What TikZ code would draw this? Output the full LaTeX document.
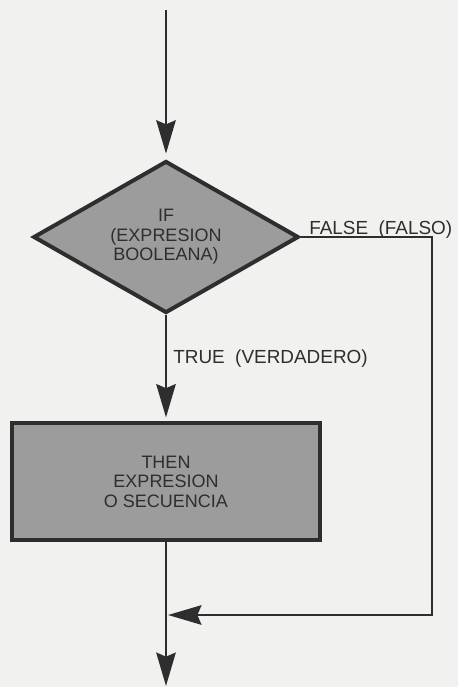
\documentclass[tikz,border=0pt]{standalone}
\usepackage{fontspec}
\setmainfont{Liberation Sans}
\usetikzlibrary{shapes.geometric,arrows.meta}
\definecolor{paper}{HTML}{F1F1EF}
\definecolor{ink}{HTML}{2E2E2E}
\definecolor{shade}{HTML}{9C9C9C}
\tikzset{
  flow/.style={draw=ink, line width=2.2pt, -{Stealth[length=25pt,width=14.5pt,inset=3pt]}},
  plain/.style={draw=ink, line width=2.2pt},
  decision/.style={diamond, draw=ink, fill=shade, line width=3pt, aspect=1.75,
    minimum width=199pt, minimum height=114pt, inner sep=0pt, align=center,
    text=ink, font=\fontsize{13.5}{14.6}\selectfont},
  process/.style={rectangle, draw=ink, fill=shade, line width=3pt,
    minimum width=231pt, minimum height=88pt, inner sep=0pt, align=center,
    text=ink, font=\fontsize{13.5}{14.6}\selectfont},
  lbl/.style={inner sep=0pt, text=ink, font=\fontsize{14.2}{17}\selectfont}
}
\begin{document}
\begin{tikzpicture}[x=0.75pt,y=-0.75pt]
  \fill[paper] (0,0) rectangle (458,687);
  \useasboundingbox (0,0) rectangle (458,687);
  \coordinate (start) at (166,10);
  \node[decision] (if) at (166,237) {IF\\(EXPRESION\\BOOLEANA)};
  \node[process] (then) at (166,481.5) {THEN\\EXPRESION\\O SECUENCIA};
  \coordinate (corner) at (432,237);
  \coordinate (merge) at (166,615);
  \coordinate (end) at (166,686);
  \draw[flow, shorten >=4pt] (start) -- (if.north);
  \draw[flow, shorten >=2.5pt] (if.south) -- (then.north);
  \draw[flow, shorten >=1.5pt] (if.east) -- (corner) |- (merge);
  \draw[flow] (then.south) -- (end);
  \node[lbl, anchor=base west] (false) at (309,234) {FALSE\hspace{0.55em}(FALSO)};
  \node[lbl, anchor=base west] (true) at (173,363) {TRUE\hspace{0.55em}(VERDADERO)};
\end{tikzpicture}
\end{document}
